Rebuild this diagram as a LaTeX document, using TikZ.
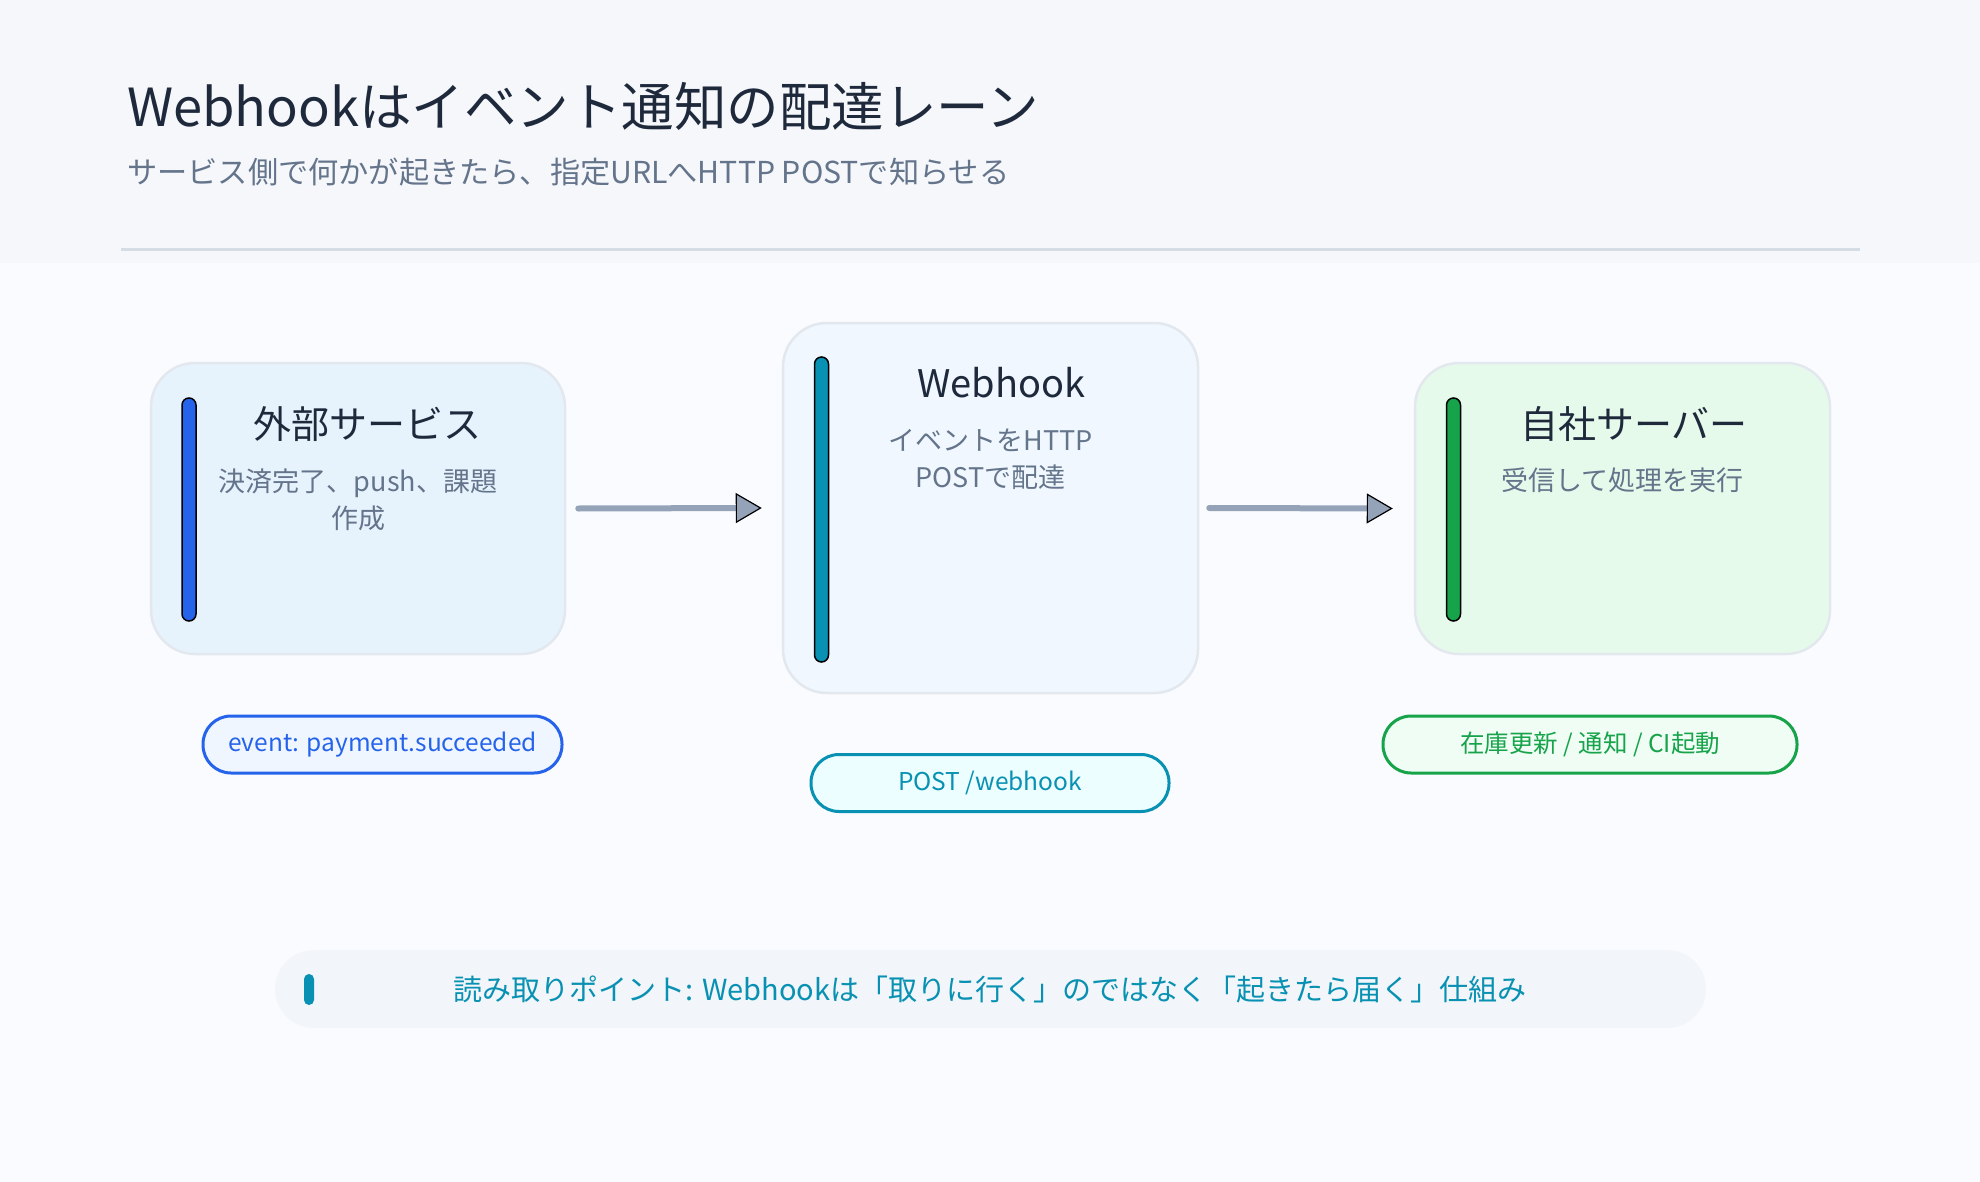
\documentclass[tikz,border=0pt]{standalone}
\usepackage{fontspec}
\setmainfont{Noto Sans CJK JP}
\usetikzlibrary{arrows.meta}
\definecolor{hdrbg}{HTML}{F5F7FB}
\definecolor{bodybg}{HTML}{FAFBFE}
\definecolor{divider}{HTML}{D6DCE4}
\definecolor{ink}{HTML}{1E293B}
\definecolor{muted}{HTML}{64748B}
\definecolor{boxline}{HTML}{E3E8EF}
\definecolor{fillA}{HTML}{E6F3FD}
\definecolor{fillB}{HTML}{F0F7FE}
\definecolor{fillC}{HTML}{E6FAEB}
\definecolor{cblue}{HTML}{2563EB}
\definecolor{cteal}{HTML}{0891B2}
\definecolor{cgreen}{HTML}{16A34A}
\definecolor{pillA}{HTML}{EFF6FF}
\definecolor{pillB}{HTML}{ECFEFF}
\definecolor{pillC}{HTML}{F0FDF4}
\definecolor{arrowgray}{HTML}{94A3B8}
\definecolor{bannerbg}{HTML}{F2F5F9}
\begin{document}
\begin{tikzpicture}[x=1pt,y=-1pt,
  lane/.style={draw=boxline, line width=2.5pt, rounded corners=44pt, inner sep=0pt},
  accent/.style={draw=black, line width=1.5pt, rounded corners=7pt, minimum width=14pt, inner sep=0pt},
  lanetitle/.style={text=ink, inner sep=0pt, font=\fontsize{38}{44}\selectfont},
  lanesub/.style={text=muted, inner sep=0pt, align=center, font=\fontsize{27}{37}\selectfont},
  pill/.style={line width=3pt, rounded corners=28pt, minimum height=57pt, inner sep=0pt, font=\fontsize{24.5}{30}\selectfont},
  conn/.style={draw=arrowgray, line width=6pt, line cap=round,
    -{Triangle[length=26pt,width=30pt,fill=arrowgray,color=black,line width=1.2pt]}}
]
\useasboundingbox (0,0) rectangle (1980,1182);
\fill[bodybg] (0,0) rectangle (1980,1182);
\fill[hdrbg] (0,0) rectangle (1980,263);
\draw[divider, line width=3pt] (121,250) -- (1860,250);

\node[anchor=base west, inner sep=0pt, text=ink, font=\fontsize{52.5}{60}\selectfont] (title) at (127,127) {Webhookはイベント通知の配達レーン};
\node[anchor=base west, inner sep=0pt, text=muted, font=\fontsize{30.2}{36}\selectfont] (subtitle) at (127,184) {サービス側で何かが起きたら、指定URLへHTTP POSTで知らせる};

% lanes
\node[lane, fill=fillA, minimum width=414pt, minimum height=291pt] (b1) at (358,508.5) {};
\node[lane, fill=fillB, minimum width=415pt, minimum height=370pt] (b2) at (990.5,508) {};
\node[lane, fill=fillC, minimum width=415pt, minimum height=291pt] (b3) at (1622.5,508.5) {};

\node[accent, fill=cblue, minimum height=223pt] (a1) at (189,509.5) {};
\node[accent, fill=cteal, minimum height=305pt] (a2) at (821.5,509.5) {};
\node[accent, fill=cgreen, minimum height=223pt] (a3) at (1453.5,509.5) {};

\node[lanetitle] (t1) at (367,424) {外部サービス};
\node[lanetitle] (t2) at (1001.5,383) {Webhook};
\node[lanetitle] (t3) at (1634,424) {自社サーバー};

\node[lanesub] (s1) at (358,499.5) {決済完了、push、課題\\作成};
\node[lanesub] (s2) at (990.5,459) {イベントをHTTP\\POSTで配達};
\node[lanesub] (s3) at (1622.5,480) {受信して処理を実行};

% connectors
\draw[conn] ([xshift=12pt]b1.east) -- ([xshift=-20pt]b2.west);
\draw[conn] ([xshift=10pt]b2.east) -- ([xshift=-21pt]b3.west);

% pills
\node[pill, draw=cblue, fill=pillA, text=cblue, minimum width=359pt] (p1) at (382.5,744.5) {event: payment.succeeded};
\node[pill, draw=cteal, fill=pillB, text=cteal, minimum width=358pt] (p2) at (990,783) {POST /webhook};
\node[pill, draw=cgreen, fill=pillC, text=cgreen, minimum width=414pt] (p3) at (1590,744.5) {在庫更新 / 通知 / CI起動};

% banner
\node[fill=bannerbg, rounded corners=39pt, minimum width=1431pt, minimum height=78pt, inner sep=0pt] (banner) at (990.5,989) {};
\node[fill=cteal, rounded corners=5pt, minimum width=10pt, minimum height=31pt, inner sep=0pt] (bbar) at (309,989.5) {};
\node[text=cteal, inner sep=0pt, font=\fontsize{29}{34}\selectfont] (btext) at (990,989) {読み取りポイント: Webhookは「取りに行く」のではなく「起きたら届く」仕組み};
\end{tikzpicture}
\end{document}
